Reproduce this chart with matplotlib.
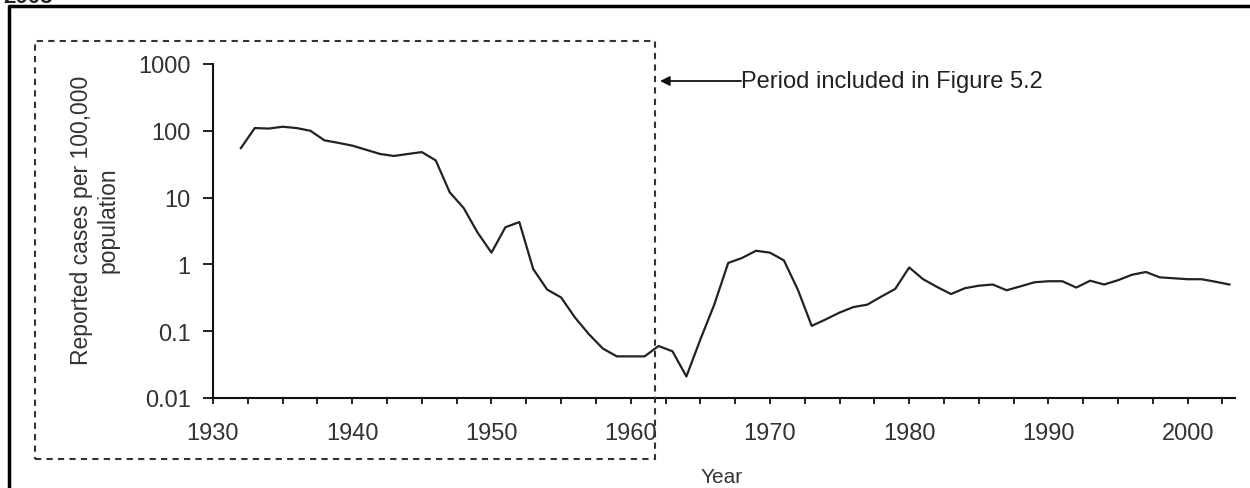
import numpy as np
import matplotlib
matplotlib.use('Agg')
import matplotlib.pyplot as plt
from matplotlib.patches import Rectangle
from matplotlib.lines import Line2D

plt.rcParams['font.family'] = ['Liberation Sans', 'DejaVu Sans']

# reported cases per 100,000 population, 1932-2003
years = list(range(1932, 2004))
rates = [55, 110, 108, 115, 110, 100, 72, 66, 60, 52,
         45, 42, 45, 48, 36, 12, 7, 3.0, 1.5, 3.6,
         4.3, 0.85, 0.42, 0.32, 0.16, 0.09, 0.055, 0.042, 0.042, 0.042,
         0.06, 0.05, 0.021, 0.075, 0.25, 1.05, 1.25, 1.6, 1.5, 1.15,
         0.42, 0.12, 0.15, 0.19, 0.23, 0.25, 0.33, 0.43, 0.9, 0.6,
         0.46, 0.36, 0.44, 0.48, 0.5, 0.41, 0.47, 0.54, 0.56, 0.56,
         0.45, 0.57, 0.5, 0.58, 0.7, 0.77, 0.64, 0.62, 0.6, 0.6,
         0.55, 0.5]
y_ticks = [0.01, 0.1, 1, 10, 100, 1000]
y_labels = ['0.01', '0.1', '1', '10', '100', '1000']
x_labels = [1930, 1940, 1950, 1960, 1970, 1980, 1990, 2000]

W, H = 1250, 489
fig = plt.figure(figsize=(W / 100, H / 100), dpi=100)
fig.patch.set_facecolor('white')


def fx(px):
    return px / W


def fy(py):
    return 1 - py / H


ax = fig.add_axes([fx(213), fy(399), fx(1235 - 213), (399 - 65) / H])
ax.plot(years, rates, color='#222222', lw=1.6)
ax.set_yscale('log')
ax.set_ylim(0.01, 1000)
ax.set_xlim(1930, 2003.4)

ax.spines['top'].set_visible(False)
ax.spines['right'].set_visible(False)
for s in ['left', 'bottom']:
    ax.spines[s].set_linewidth(1.5)
    ax.spines[s].set_color('#111111')

ax.set_yticks(y_ticks)
ax.set_yticklabels(y_labels)
ax.yaxis.set_minor_locator(matplotlib.ticker.NullLocator())
xt = np.arange(1930, 2003, 2.5)
ax.set_xticks(xt)
ax.set_xticklabels([str(int(v)) if v in x_labels else '' for v in xt])
ax.tick_params(axis='y', length=7, width=1.3, pad=9, labelsize=17, colors='#111111', labelcolor='#333333')
ax.tick_params(axis='x', length=4.5, width=1.3, pad=13, labelsize=17, colors='#111111', labelcolor='#333333')

fig.text(fx(95), fy(220), 'Reported cases per 100,000\npopulation', rotation=90,
         ha='center', va='center', fontsize=16.5, color='#333333', linespacing=1.2,
         multialignment='center')
fig.text(fx(722), fy(487), 'Year', ha='center', va='bottom', fontsize=15, color='#333333')

# dashed box marking the earlier period
fig.add_artist(Rectangle((fx(35), fy(460)), fx(655 - 35), (460 - 42) / H,
                         transform=fig.transFigure, fill=False, ls=(0, (3, 2.5)),
                         lw=1.5, edgecolor='#333333'))

fig.text(fx(741), fy(82), 'Period included in Figure 5.2', ha='left', va='center',
         fontsize=17, color='#222222')
ax.annotate('', xy=(fx(660), fy(82)), xytext=(fx(741), fy(82)),
            xycoords='figure fraction', textcoords='figure fraction',
            arrowprops=dict(arrowstyle='-|>', color='#111111', lw=1.3,
                            mutation_scale=14, shrinkA=0, shrinkB=0))

# outer frame (cut at right and bottom)
fig.add_artist(Line2D([fx(8), fx(1260)], [fy(7), fy(7)], transform=fig.transFigure,
                      color='black', lw=2.5, solid_capstyle='butt'))
fig.add_artist(Line2D([fx(9), fx(9)], [fy(6), fy(500)], transform=fig.transFigure,
                      color='black', lw=2.5, solid_capstyle='butt'))
fig.text(fx(3), fy(3), '2003', ha='left', va='baseline', fontsize=16,
         fontweight='bold', color='#222222')

fig.savefig('out.png', dpi=100, facecolor='white')
